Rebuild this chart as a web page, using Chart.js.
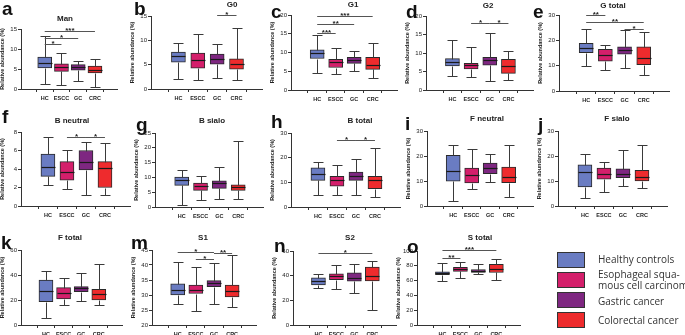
<!DOCTYPE html>
<html lang="en">
<head>
<meta charset="UTF-8">
<title>Glycan traits by group</title>
<script src="https://cdn.jsdelivr.net/npm/chart.js"></script>
<style>
  body { margin: 0; width: 685px; height: 335px; background: #fff; position: relative; overflow: hidden; font-family: "Liberation Sans", Arial, sans-serif; }
  .panel { position: absolute; }
  .letter { position: absolute; font: bold 19px/18px "Liberation Sans", Arial, sans-serif; color: #111; }
  .ttl { position: absolute; font: bold 8px "Liberation Sans", Arial, sans-serif; color: #222; transform: translate(-50%, -50%); white-space: nowrap; }
  .lg-box { position: absolute; left: 557px; width: 28px; height: 16px; border: 1px solid #333; box-sizing: border-box; }
  .lg-txt { position: absolute; left: 598px; font: 10px/11px "Open Sans", sans-serif; color: #333; white-space: nowrap; }
</style>
</head>
<body>
<script>
  // groups and fill colours
  const groups = ['HC', 'ESCC', 'GC', 'CRC'];
  const groupNames = ['Healthy controls', 'Esophageal squa-\nmous cell carcinoma', 'Gastric cancer', 'Colorectal cancer'];
  const fills = ['#6a7cc2', '#d41f6b', '#7e2781', '#ee2b2d'];

  // [min, q1, median, q3, max] for HC, ESCC, GC, CRC
  const man      = [[1.3, 5.25, 6.5, 8.0, 13.2], [1.1, 4.4, 5.5, 6.3, 9.0], [1.9, 4.7, 5.4, 6.1, 7.1], [0.5, 4.0, 4.8, 5.7, 7.5]];
  const g0       = [[2.0, 5.5, 6.7, 7.6, 9.5], [1.9, 4.3, 6.0, 7.4, 11.2], [2.3, 5.1, 6.2, 7.2, 9.2], [1.9, 4.1, 5.1, 6.2, 12.6]];
  const g1       = [[4.6, 8.4, 9.9, 10.7, 14.8], [4.3, 6.0, 7.4, 8.2, 11.3], [5.2, 7.1, 8.0, 8.7, 10.5], [3.1, 5.5, 6.8, 8.7, 12.6]];
  const g2       = [[3.8, 6.5, 7.6, 8.5, 13.6], [3.4, 5.7, 6.7, 7.2, 11.7], [2.5, 6.7, 8.1, 8.8, 15.4], [2.7, 4.5, 6.5, 8.3, 10.5]];
  const gTotal   = [[9.8, 15.1, 16.8, 18.8, 24.3], [8.2, 11.8, 14.1, 16.4, 18.1], [8.9, 14.5, 16.1, 17.4, 24.0], [6.2, 10.4, 13.2, 17.4, 23.1]];
  const bNeutral = [[2.3, 3.2, 4.2, 5.6, 7.5], [1.8, 2.8, 3.7, 4.8, 6.1], [1.2, 3.9, 4.8, 6.0, 6.9], [1.2, 2.0, 4.1, 4.8, 6.8]];
  const bSialo   = [[0.6, 7.3, 9.0, 10.1, 12.6], [2.5, 5.6, 7.1, 8.1, 10.6], [2.7, 6.3, 8.1, 8.8, 13.5], [2.7, 5.6, 6.8, 7.5, 22.2]];
  const bTotal   = [[5.0, 10.8, 13.2, 15.9, 18.2], [5.0, 8.4, 10.8, 12.4, 16.9], [4.7, 10.8, 12.6, 14.2, 19.6], [4.1, 7.4, 11.1, 12.4, 23.9]];
  const fNeutral = [[2.0, 9.9, 13.9, 20.3, 24.3], [6.7, 9.2, 12.5, 15.2, 22.9], [9.6, 12.9, 15.2, 17.2, 20.9], [3.6, 9.3, 11.6, 15.6, 24.3]];
  const fSialo   = [[3.2, 7.6, 13.6, 16.5, 20.9], [5.6, 10.7, 12.9, 15.2, 17.6], [7.9, 11.3, 12.7, 14.9, 22.5], [7.2, 10.0, 11.6, 14.3, 24.3]];
  const fTotal   = [[5.3, 18.7, 27.5, 36.0, 43.2], [16.0, 20.8, 25.3, 29.9, 37.3], [19.5, 26.7, 29.3, 30.7, 41.9], [16.0, 20.0, 24.8, 28.5, 48.5]];
  const s1       = [[27.0, 30.0, 31.8, 33.7, 41.0], [24.8, 30.5, 31.8, 33.3, 39.5], [27.1, 32.8, 34.0, 34.8, 40.8], [26.1, 29.4, 31.5, 33.3, 43.3]];
  const s2       = [[30.3, 32.5, 35.5, 38.3, 41.5], [29.5, 36.7, 39.5, 41.5, 48.7], [25.8, 35.5, 38.0, 42.3, 49.5], [12.5, 35.7, 40.0, 47.0, 52.0]];
  const sTotal   = [[60.0, 68.0, 70.0, 72.0, 84.0], [64.0, 72.5, 75.5, 78.0, 84.5], [68.5, 71.0, 73.0, 75.0, 82.0], [60.5, 71.0, 76.0, 82.0, 89.5]];

  // significance brackets: [from group, to group, level, stars]
  const sigMan = [[0, 3, 14.6, '***'], [0, 2, 12.8, '*'], [0, 1, 11.2, '*']];
  const sigG0 = [[2, 3, 15.2, '*']];
  const sigG1 = [[0, 3, 19.6, '***'], [0, 2, 17.6, '**'], [0, 1, 15.2, '***']];
  const sigG2 = [[1, 2, 18.1, '*'], [2, 3, 18.1, '*']];
  const sigGTotal = [[0, 1, 30, '**'], [0, 3, 27.3, '**'], [2, 3, 24.6, '*']];
  const sigBNeutral = [[1, 2, 7.5, '*'], [2, 3, 7.5, '*']];
  const sigBTotal = [[1, 2, 27, '*'], [2, 3, 27, '*']];
  const sigS1 = [[0, 2, 44.5, '*'], [1, 2, 42, '*'], [2, 3, 43.9, '**']];
  const sigS2 = [[0, 3, 58, '*']];
  const sigSTotal = [[0, 3, 102, '***'], [0, 1, 91, '**']];

  // layout: plot rect [left, right, top, bottom], title centre, letter position
  const panels = [
    { id: 'a', title: 'Man', data: man, sig: sigMan, max: 15, step: 5, rect: [21, 117, 29, 89], t: [65, 18], l: [2, 0] },
    { id: 'b', title: 'G0', data: g0, sig: sigG0, max: 15, step: 5, rect: [151, 262, 16, 89], t: [232, 4], l: [134, 0] },
    { id: 'c', title: 'G1', data: g1, sig: sigG1, max: 20, step: 5, rect: [291, 397, 15, 90], t: [353, 4], l: [271, 3] },
    { id: 'd', title: 'G2', data: g2, sig: sigG2, max: 20, step: 5, rect: [426, 533, 16, 90], t: [488, 5], l: [406, 3] },
    { id: 'e', title: 'G total', data: gTotal, sig: sigGTotal, max: 30, step: 10, rect: [559, 669, 15, 91], t: [613, 5], l: [533, 3] },
    { id: 'f', title: 'B neutral', data: bNeutral, sig: sigBNeutral, max: 8, step: 2, rect: [21, 130, 132, 206], t: [72, 120], l: [2, 108] },
    { id: 'g', title: 'B sialo', data: bSialo, sig: [], max: 25, step: 5, rect: [155, 263, 133, 207], t: [212, 120], l: [136, 116] },
    { id: 'h', title: 'B total', data: bTotal, sig: sigBTotal, max: 30, step: 10, rect: [291, 400, 133, 207], t: [360, 120], l: [271, 113] },
    { id: 'i', title: 'F neutral', data: fNeutral, sig: [], max: 30, step: 10, rect: [427, 533, 131, 206], t: [487, 118], l: [405, 115] },
    { id: 'j', title: 'F sialo', data: fSialo, sig: [], max: 30, step: 10, rect: [558, 667, 131, 206], t: [617, 118], l: [538, 116] },
    { id: 'k', title: 'F total', data: fTotal, sig: [], max: 60, step: 20, rect: [21, 122, 250, 325], t: [70, 237], l: [1, 234] },
    { id: 'm', title: 'S1', data: s1, sig: sigS1, min: 20, max: 45, step: 5, rect: [152, 256, 250, 325], t: [203, 237], l: [131, 234] },
    { id: 'n', title: 'S2', data: s2, sig: sigS2, max: 60, step: 20, rect: [293, 396, 251, 325], t: [350, 237], l: [274, 237] },
    { id: 'o', title: 'S total', data: sTotal, sig: sigSTotal, max: 100, step: 20, rect: [417, 520, 251, 325], t: [480, 237], l: [407, 238] }
  ];

  const boxPlot = {
    id: 'boxPlot',
    afterDatasetsDraw(chart, args, opts) {
      const { ctx, scales: { x, y } } = chart;
      ctx.save();
      ctx.lineWidth = 1;
      opts.summary.forEach((s, i) => {
        const cx = Math.round(x.getPixelForValue(i)) + 0.5;
        const cap = 5;
        const [lo, q1, med, q3, hi] = s.map(v => Math.round(y.getPixelForValue(v)) + 0.5);
        ctx.strokeStyle = '#3a3a3a';
        ctx.beginPath();
        ctx.moveTo(cx, q3); ctx.lineTo(cx, hi);
        ctx.moveTo(cx - cap, hi); ctx.lineTo(cx + cap, hi);
        ctx.moveTo(cx, q1); ctx.lineTo(cx, lo);
        ctx.moveTo(cx - cap, lo); ctx.lineTo(cx + cap, lo);
        ctx.stroke();
        ctx.strokeStyle = '#1a1a1a';
        ctx.lineWidth = 1.2;
        ctx.beginPath();
        ctx.moveTo(cx - opts.half, med); ctx.lineTo(cx + opts.half, med);
        ctx.stroke();
        ctx.lineWidth = 1;
      });
      ctx.restore();
    }
  };

  const brackets = {
    id: 'brackets',
    afterDraw(chart, args, opts) {
      const { ctx, scales: { x, y } } = chart;
      ctx.save();
      ctx.strokeStyle = '#555';
      ctx.fillStyle = '#222';
      ctx.lineWidth = 1;
      ctx.font = 'bold 8px "Liberation Sans", Arial, sans-serif';
      ctx.textAlign = 'center';
      ctx.textBaseline = 'bottom';
      opts.list.forEach(([a, b, v, stars]) => {
        const x1 = x.getPixelForValue(a), x2 = x.getPixelForValue(b);
        const yy = Math.round(y.getPixelForValue(v)) + 0.5;
        ctx.beginPath();
        ctx.moveTo(x1, yy); ctx.lineTo(x2, yy);
        ctx.stroke();
        ctx.fillText(stars, (x1 + x2) / 2, yy + 3);
      });
      ctx.restore();
    }
  };

  const yw = 22, xh = 14, pt = 16, pr = 4, bw = 14;

  panels.forEach(p => {
    const [L, R, T, B] = p.rect;
    const wrap = document.createElement('div');
    wrap.className = 'panel';
    wrap.style.left = (L - yw) + 'px';
    wrap.style.top = (T - pt) + 'px';
    const canvas = document.createElement('canvas');
    canvas.width = R - L + yw + pr;
    canvas.height = B - T + pt + xh;
    wrap.appendChild(canvas);
    document.body.appendChild(wrap);

    const letter = document.createElement('div');
    letter.className = 'letter';
    letter.textContent = p.id;
    letter.style.left = p.l[0] + 'px';
    letter.style.top = p.l[1] + 'px';
    document.body.appendChild(letter);

    const ttl = document.createElement('div');
    ttl.className = 'ttl';
    ttl.textContent = p.title;
    ttl.style.left = p.t[0] + 'px';
    ttl.style.top = p.t[1] + 'px';
    document.body.appendChild(ttl);

    new Chart(canvas, {
      type: 'bar',
      data: {
        datasets: [{
          data: p.data.map((s, i) => ({ x: i, y: [s[1], s[3]] })),
          backgroundColor: fills,
          borderColor: '#2a2a2a',
          borderWidth: 1,
          borderSkipped: false,
          barThickness: bw
        }]
      },
      options: {
        responsive: false,
        animation: false,
        devicePixelRatio: 1,
        layout: { padding: { top: pt, right: pr, left: 0, bottom: 0 } },
        plugins: {
          legend: { display: false },
          tooltip: { enabled: false },
          boxPlot: { summary: p.data, half: bw / 2 },
          brackets: { list: p.sig }
        },
        scales: {
          x: {
            type: 'linear', min: -0.7, max: 3.6,
            afterBuildTicks: s => { s.ticks = groups.map((g, i) => ({ value: i })); },
            afterFit: s => { s.height = xh; },
            ticks: { callback: v => groups[v], font: { size: 5.5, weight: 'bold' }, color: '#222', padding: 3, maxRotation: 0, autoSkip: false },
            grid: { drawOnChartArea: false, tickLength: 3, color: '#333' },
            border: { color: '#333', width: 1 }
          },
          y: {
            min: p.min || 0, max: p.max,
            afterFit: s => { s.width = yw; },
            ticks: { stepSize: p.step, font: { size: 6 }, color: '#222', padding: 1 },
            grid: { drawOnChartArea: false, tickLength: 3, color: '#333' },
            border: { color: '#333', width: 1 },
            title: { display: true, text: 'Relative abundance (%)', font: { size: 5.5, weight: 'bold' }, color: '#222', padding: 0 }
          }
        }
      },
      plugins: [boxPlot, brackets]
    });
  });

  // legend
  groupNames.forEach((name, i) => {
    const box = document.createElement('div');
    box.className = 'lg-box';
    box.style.top = (252 + i * 20) + 'px';
    box.style.background = fills[i];
    document.body.appendChild(box);
  });
  const lgTxt = [[groupNames[0], 254], ['Esophageal squa-', 269], ['mous cell carcinoma', 280], [groupNames[2], 296], [groupNames[3], 315]];
  lgTxt.forEach(([t, top]) => {
    const d = document.createElement('div');
    d.className = 'lg-txt';
    d.style.top = top + 'px';
    d.textContent = t;
    document.body.appendChild(d);
  });
</script>
</body>
</html>
